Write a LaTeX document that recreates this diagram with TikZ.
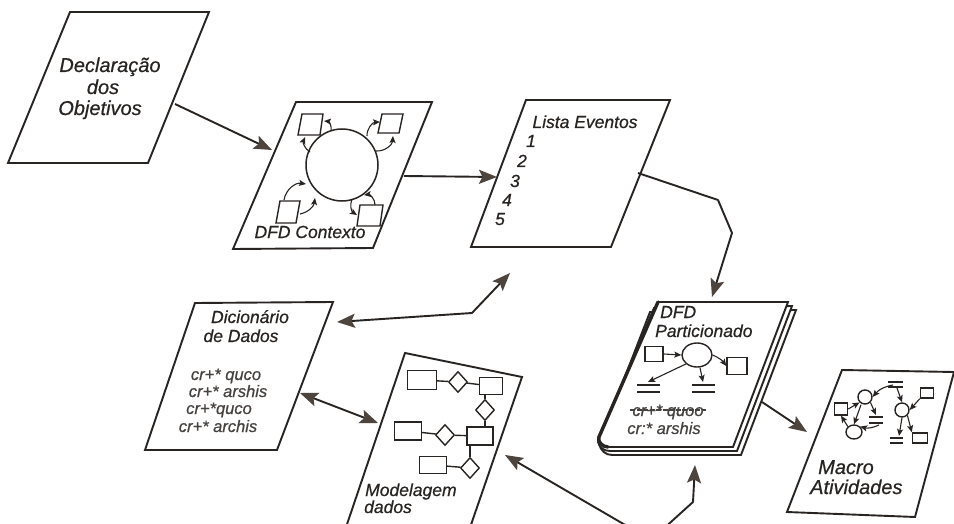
\documentclass[tikz,border=0pt]{standalone}
\usepackage{fontspec}
\setmainfont{Liberation Sans}[ItalicFeatures={FakeBold=0.6}]
\usetikzlibrary{arrows.meta,shapes.geometric}

\definecolor{ink}{RGB}{40,36,34}
\definecolor{tipink}{RGB}{78,68,62}
\definecolor{scribble}{RGB}{70,66,64}

\tikzset{
  sheet/.style={draw=ink, line width=1.9pt, fill=white, line join=miter},
  lbl/.style={font=\itshape\fontsize{17.5}{21}\selectfont, text=ink, inner sep=0pt, anchor=base},
  biglbl/.style={lbl, font=\itshape\fontsize{20}{24}\selectfont},
  scrib/.style={lbl, font=\itshape\fontsize{16.5}{18}\selectfont, text=scribble},
  flow/.style={draw=ink, line width=1.9pt, line join=round,
    -{Stealth[length=18pt,width=14pt,inset=3.5pt,color=tipink]}},
  twoway/.style={flow, {Stealth[length=18pt,width=14pt,inset=3.5pt,color=tipink]}-{Stealth[length=18pt,width=14pt,inset=3.5pt,color=tipink]}},
  mini/.style={draw=ink, line width=1.4pt, fill=white},
  minibox/.style={mini, rectangle, inner sep=0pt},
  minidia/.style={mini, diamond, inner sep=0pt, minimum width=19pt, minimum height=21pt},
  tiny/.style={draw=ink, line width=1.1pt, -{Stealth[length=7pt,width=6pt,inset=1.5pt]}},
}

\begin{document}
\begin{tikzpicture}[x=1pt,y=-1pt]
\clip (0,0) rectangle (954,524);
\fill[white] (0,0) rectangle (954,524);

% ---------- Declaração dos Objetivos ----------
\draw[sheet] (70,12) -- (209,12) -- (148,163) -- (8,163) -- cycle;
\node[biglbl] (decl1) at (110,72) {Declaração};
\node[biglbl] (decl2) at (103,94) {dos};
\node[biglbl] (decl3) at (100,115) {Objetivos};
\coordinate (decl-out) at (175,104);

% ---------- DFD Contexto ----------
\draw[sheet] (296,102) -- (432,102) -- (373,248) -- (233,249) -- cycle;
\node[lbl] (ctx-title) at (310,238) {DFD Contexto};
\coordinate (ctx-in) at (272,150);
\coordinate (ctx-out) at (404,176);
\draw[mini, line width=1.5pt] (342,165) circle [radius=36pt];
\draw[mini] (302,114) -- (323,114) -- (320,135) -- (298,135) -- cycle;
\draw[mini] (382,114) -- (403,114) -- (399,133) -- (378,133) -- cycle;
\draw[mini] (280,201) -- (300,201) -- (296,223) -- (276,223) -- cycle;
\draw[mini] (360,205) -- (383,205) -- (380,226) -- (357,226) -- cycle;
% flows between the process and its terminators
\draw[tiny] (331,131) to[bend right=50] (324,121);
\draw[tiny] (310,152) to[bend left=40] (305,137);
\draw[tiny] (367,136) to[bend left=45] (380,122);
\draw[tiny] (376,151) to[bend right=45] (393,136);
\draw[tiny] (284,200) to[bend left=45] (306,184);
\draw[tiny] (300,214) to[bend right=35] (315,198);
\draw[tiny] (352,199) to[bend right=40] (357,215);
\draw[tiny] (375,205) to[bend right=50] (364,195);

% ---------- Lista Eventos ----------
\draw[sheet] (526,100) -- (670,100) -- (611,247) -- (471,247) -- cycle;
\node[lbl] (ev-title) at (585,128) {Lista Eventos};
\node[lbl] (ev1) at (531,147) {1};
\node[lbl] (ev2) at (522,167) {2};
\node[lbl] (ev3) at (515,187) {3};
\node[lbl] (ev4) at (507,206) {4};
\node[lbl] (ev5) at (500,225) {5};
\coordinate (ev-in) at (497,177);
\coordinate (ev-out) at (638,173);
\coordinate (ev-bottom) at (510,273);

% ---------- Dicionário de Dados ----------
\draw[sheet] (195,303) -- (333,302) -- (277,450) -- (145,450) -- cycle;
\node[lbl] (dic1) at (250,323) {Dicionário};
\node[lbl] (dic2) at (241,342) {de Dados};
\node[scrib] (dic3) at (226,380) {cr+* quco};
\node[scrib] (dic4) at (228,397) {cr+* arshis};
\node[scrib] (dic5) at (219,414) {cr+*quco};
\node[scrib] (dic6) at (218,432) {cr+* archis};
\coordinate (dic-top) at (337,322);
\coordinate (dic-low) at (300,393);

% ---------- Modelagem dados ----------
\draw[sheet] (405,353) -- (522,377) -- (464,545) -- (340,545) -- cycle;
\node[lbl, anchor=base west] (mod1) at (365,496) {Modelagem};
\node[lbl, anchor=base west] (mod2) at (364,513) {dados};
\coordinate (mod-left) at (378,423);
\coordinate (mod-right) at (505,455);
% entity-relationship sketch
\node[minibox, minimum width=29pt, minimum height=19pt] (e1) at (422,380) {};
\node[minidia] (r1) at (458,382) {};
\node[minibox, minimum width=23pt, minimum height=17pt] (e2) at (491,386) {};
\node[minidia] (r2) at (485,410) {};
\node[minibox, minimum width=26pt, minimum height=18pt] (e3) at (480,436) {};
\node[minibox, minimum width=27pt, minimum height=18pt] (e4) at (408,431) {};
\node[minidia] (r3) at (445,435) {};
\node[minibox, minimum width=27pt, minimum height=17pt] (e5) at (433,465) {};
\node[minidia] (r4) at (470,468) {};
\draw[mini] (e1) -- (r1) -- (e2);
\draw[mini] (r2.north) -- (r2.north |- e2.south);
\draw[mini] (r2.south) -- (r2.south |- e3.north);
\draw[mini] (e4) -- (r3) -- (e3);
\draw[mini] (r4.north) -- (r4.north |- e3.south);
\draw[mini] (e5) -- (r4);

% ---------- DFD Particionado (stack of sheets) ----------
\draw[sheet] (796,310) -- (741,455) -- (612,455) to[out=180,in=-75] (599,444) -- (650,312) -- cycle;
\draw[sheet] (792,306) -- (737,451) -- (610,451) to[out=180,in=-75] (598,442) -- (654,308) -- cycle;
\draw[sheet] (658,302) -- (788,302) -- (733,447) -- (608,447) to[out=180,in=-70] (598,438) -- cycle;
\draw[draw=ink, line width=3.4pt, line cap=round] (658,302) -- (599,437) to[out=-110,in=180] (608,447);
\node[lbl, anchor=base west] (part1) at (660,318) {DFD};
\node[lbl, anchor=base west] (part2) at (655,337) {Particionado};
\coordinate (part-top) at (712,297);
\coordinate (part-right) at (762,402);
\coordinate (part-bottom) at (695,465);
% partitioned data-flow sketch
\node[minibox, minimum width=18pt, minimum height=15pt] (p-ext1) at (654,354) {};
\node[mini, ellipse, minimum width=30pt, minimum height=24pt, inner sep=0pt] (p-proc) at (697,355) {};
\node[minibox, minimum width=20pt, minimum height=17pt] (p-ext2) at (737,366) {};
\coordinate (p-st1) at (648,382);
\coordinate (p-st2) at (703,382);
\draw[draw=ink, line width=1.4pt] (637,385) -- (660,385) (637,392) -- (660,392);
\draw[draw=ink, line width=1.4pt] (692,385) -- (715,385) (692,392) -- (715,392);
\draw[tiny] (p-ext1.east) -- (p-proc.west);
\draw[tiny] (p-proc.east) to[bend left=15] (p-ext2.west);
\draw[tiny] (p-proc.south west) -- (p-st1);
\draw[tiny] (p-proc.south) ++(3,0) -- (p-st2);
\node[scrib] (part3) at (668,416) {cr+* quoo};
\draw[draw=scribble, line width=1.3pt, dash pattern=on 5pt off 1.5pt] (630,410) -- (706,410);
\node[scrib] (part4) at (664,434) {cr:* arshis};

% ---------- Macro Atividades ----------
\draw[sheet] (842,370) -- (954,372) -- (915,517) -- (787,512) -- cycle;
\node[biglbl, anchor=base west] (mac1) at (818,474) {Macro};
\node[biglbl, anchor=base west] (mac2) at (810,494) {Atividades};
\coordinate (mac-in) at (807,432);
% activity sketch
\node[mini, circle, minimum size=14pt, inner sep=0pt] (m-c1) at (865,397) {};
\node[mini, ellipse, minimum width=16pt, minimum height=14pt, inner sep=0pt] (m-c2) at (854,432) {};
\node[mini, circle, minimum size=14pt, inner sep=0pt] (m-c3) at (902,410) {};
\node[minibox, minimum width=13pt, minimum height=12pt] (m-s1) at (841,409) {};
\node[minibox, minimum width=13pt, minimum height=10pt] (m-s2) at (927,393) {};
\node[minibox, minimum width=15pt, minimum height=10pt] (m-s3) at (920,438) {};
\draw[draw=ink, line width=1.4pt] (888,382) -- (903,382) (888,387) -- (903,387);
\draw[draw=ink, line width=1.4pt] (869,417) -- (883,417) (869,423) -- (883,423);
\draw[draw=ink, line width=1.4pt] (890,438) -- (903,438) (890,443) -- (903,443);
\coordinate (m-top) at (893,385);
\draw[tiny] (m-top) to[bend right=20] (m-c1.east);
\draw[tiny] (897,388) -- (m-c3.north);
\draw[tiny] (m-s2.south west) -- (m-c3.east);
\draw[tiny] (m-c3.south east) -- (m-s3.north west);
\draw[tiny] (m-c3.south) -- (899,436);
\draw[tiny] (m-c1.south east) -- (876,415);
\draw[tiny] (879,425) to[bend left=20] (m-c2.north east);
\draw[tiny] (m-s1.east) -- (m-c1.south west);
\draw[tiny] (m-c1.south) ++(-4,0) -- (m-c2.north);
\draw[tiny] (m-c2.north west) -- (m-s1.south);

% ---------- connectors ----------
\coordinate (src-bottom) at (651,540);
\coordinate (bend-a) at (718,200);
\coordinate (bend-b) at (732,233);
\coordinate (bend-c) at (472,313);
\coordinate (bend-d) at (693,502);

\draw[flow] (decl-out) -- (ctx-in);
\draw[flow] (ctx-out) -- (ev-in);
\draw[flow] (ev-out) -- (bend-a) -- (bend-b) -- (part-top);
\draw[twoway] (dic-top) -- (bend-c) -- (ev-bottom);
\draw[twoway] (dic-low) -- (mod-left);
\draw[flow] (part-right) -- (mac-in);
\draw[flow] (src-bottom) -- (mod-right);
\draw[flow] (src-bottom) -- (bend-d) -- (part-bottom);
\end{tikzpicture}
\end{document}
